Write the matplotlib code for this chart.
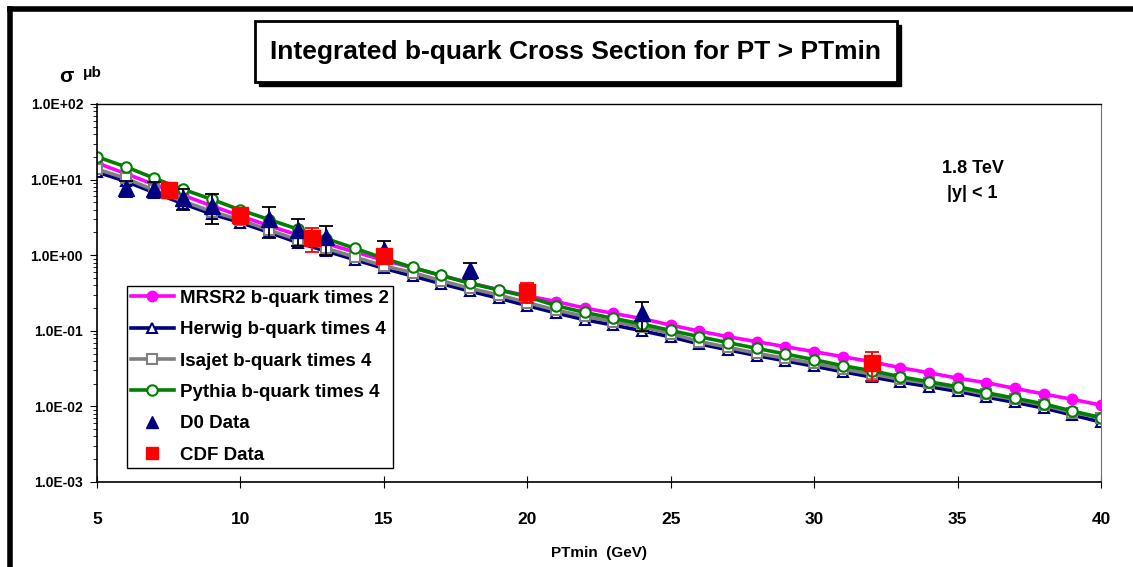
import matplotlib.pyplot as plt
from matplotlib.lines import Line2D
from matplotlib.patches import Rectangle

plt.rcParams['font.family'] = ['Liberation Sans', 'DejaVu Sans']
plt.rcParams['font.weight'] = 'bold'

# PTmin (GeV)
pt = list(range(5, 41))

mrsr2 = [16.6, 12.0, 8.6, 6.2, 4.5, 3.3, 2.45, 1.85, 1.42, 1.1, 0.86, 0.68,
         0.54, 0.43, 0.35, 0.29, 0.244, 0.2, 0.17, 0.145, 0.119, 0.099,
         0.0835, 0.0718, 0.0616, 0.053, 0.0454, 0.039, 0.0325, 0.0279,
         0.0236, 0.0206, 0.0173, 0.0146, 0.0124, 0.0104]
herwig = [12.6, 9.5, 6.7, 4.8, 3.5, 2.7, 2.0, 1.47, 1.13, 0.87, 0.67, 0.53,
          0.42, 0.335, 0.27, 0.215, 0.172, 0.14, 0.119, 0.1, 0.083, 0.067,
          0.056, 0.047, 0.04, 0.034, 0.0287, 0.0245, 0.021, 0.0183, 0.0158,
          0.0133, 0.0113, 0.0095, 0.0077, 0.0062]
isajet = [13.8, 10.4, 7.2, 5.2, 3.77, 2.93, 2.15, 1.59, 1.23, 0.94, 0.72,
          0.59, 0.46, 0.365, 0.298, 0.236, 0.188, 0.155, 0.132, 0.113, 0.092,
          0.072, 0.0605, 0.0504, 0.0432, 0.0372, 0.0312, 0.0268, 0.0228,
          0.0202, 0.0173, 0.0144, 0.0124, 0.0104, 0.0083, 0.0071]
pythia = [20.0, 14.8, 10.4, 7.44, 5.48, 3.96, 2.96, 2.21, 1.65, 1.23, 0.91,
          0.69, 0.54, 0.425, 0.347, 0.283, 0.215, 0.175, 0.146, 0.123, 0.101,
          0.0835, 0.0697, 0.0586, 0.0493, 0.0415, 0.0345, 0.0297, 0.0247,
          0.0212, 0.0182, 0.0152, 0.0128, 0.0108, 0.0087, 0.0071]

# D0 data
d0_pt = [6, 7, 8, 9, 11, 12, 13, 15, 18, 24]
d0_val = [7.7, 7.5, 5.7, 4.5, 3.0, 2.15, 1.73, 1.17, 0.64, 0.17]
d0_err = [1.8, 1.7, 1.7, 1.9, 1.3, 0.83, 0.73, 0.38, 0.15, 0.07]

# CDF data
cdf_pt = [7.5, 10, 12.5, 15, 20, 32]
cdf_val = [7.3, 3.4, 1.68, 0.975, 0.33, 0.037]
cdf_err = [0.5, 0.8, 0.58, 0.2, 0.1, 0.015]

fig = plt.figure(figsize=(11.33, 5.67), dpi=100)
ax = fig.add_axes([97 / 1133, 1 - 482 / 567, 1004 / 1133, 378 / 567])

lw = 2.6
l1, = ax.plot(pt, mrsr2, color='#ff00ff', lw=lw, marker='o', ms=7.5,
              mfc='#ff00ff', mec='#ff00ff')
l2, = ax.plot(pt, herwig, color='#000080', lw=lw, marker='^', ms=7.5,
              mfc='white', mec='#000080', mew=1.5)
l3, = ax.plot(pt, isajet, color='#808080', lw=lw, marker='s', ms=7.5,
              mfc='white', mec='#808080', mew=1.5)
l4, = ax.plot(pt, pythia, color='#008000', lw=lw, marker='o', ms=7.5,
              mfc='white', mec='#008000', mew=1.5)
ax.errorbar(d0_pt, d0_val, yerr=d0_err, fmt='^', color='#000080', ms=11,
            ecolor='black', elinewidth=1.3, capsize=5, capthick=1.3,
            zorder=5)
ax.errorbar(cdf_pt, cdf_val, yerr=cdf_err, fmt='s', color='#ff0000', ms=11,
            ecolor='#ff0000', elinewidth=1.3, capsize=5, capthick=1.3,
            zorder=6)
h5 = Line2D([], [], ls='none', marker='^', ms=9, color='#000080')
h6 = Line2D([], [], ls='none', marker='s', ms=9, color='#ff0000')

ax.set_yscale('log')
ax.set_xlim(5, 40)
ax.set_ylim(1e-3, 1e2)
ax.set_xticks(range(5, 41, 5))
ax.set_yticks([1e-3, 1e-2, 1e-1, 1e0, 1e1, 1e2])
ax.set_yticklabels(['1.0E-03', '1.0E-02', '1.0E-01', '1.0E+00', '1.0E+01',
                    '1.0E+02'], fontsize=10, fontweight='bold')
ax.tick_params(axis='x', direction='inout', length=9, labelsize=12.5, pad=17)
ax.tick_params(axis='y', which='major', direction='out', length=5, pad=5)
ax.tick_params(axis='y', which='minor', direction='out', length=3)
for lab in ax.get_xticklabels():
    lab.set_fontweight('bold')
ax.spines['left'].set_linewidth(1.2)
ax.spines['bottom'].set_linewidth(1.2)
ax.spines['top'].set_linewidth(1.0)
ax.spines['right'].set_color('#707070')
ax.set_xlabel('PTmin  (GeV)', fontsize=11, fontweight='bold', labelpad=14)

leg = ax.legend([l1, l2, l3, l4, h5, h6],
                ['MRSR2 b-quark times 2', 'Herwig b-quark times 4',
                 'Isajet b-quark times 4', 'Pythia b-quark times 4',
                 'D0 Data', 'CDF Data'],
                loc='upper left', bbox_to_anchor=(127 / 1133, 1 - 286 / 567),
                bbox_transform=fig.transFigure, fontsize=13.5, frameon=True,
                fancybox=False, edgecolor='black', framealpha=1,
                handlelength=2.3, handletextpad=0.35, labelspacing=0.76,
                borderpad=0.2, borderaxespad=0)
leg.get_frame().set_linewidth(1.0)
for t in leg.get_texts():
    t.set_fontweight('bold')

ax.text(0.872, 0.83, '1.8 TeV', transform=ax.transAxes, ha='center',
        va='center', fontsize=13, fontweight='bold')
ax.text(0.872, 0.763, '|y| < 1', transform=ax.transAxes, ha='center',
        va='center', fontsize=13, fontweight='bold')

# y axis unit label
fig.text(66 / 1133, 1 - 77 / 567, 'σ', fontsize=15, fontweight='bold',
         ha='center', va='center')
fig.text(92 / 1133, 1 - 73 / 567, 'μb', fontsize=11, fontweight='bold',
         ha='center', va='center')

# title box with shadow
bx0, bx1, by0, by1 = 255, 897, 21, 82
fig.add_artist(Rectangle((bx0 / 1133 + 4 / 1133, 1 - by1 / 567 - 4 / 567),
                         (bx1 - bx0) / 1133, (by1 - by0) / 567,
                         transform=fig.transFigure, facecolor='black',
                         edgecolor='black'))
fig.add_artist(Rectangle((bx0 / 1133, 1 - by1 / 567),
                         (bx1 - bx0) / 1133, (by1 - by0) / 567,
                         transform=fig.transFigure, facecolor='white',
                         edgecolor='black', linewidth=2))
fig.text((bx0 + bx1) / 2 / 1133, 1 - (by0 + by1) / 2 / 567,
         'Integrated b-quark Cross Section for PT > PTmin', fontsize=19,
         fontweight='bold', ha='center', va='center')

# slide frame
fig.add_artist(Line2D([10 / 1133, 1], [1 - 9 / 567, 1 - 9 / 567],
                      transform=fig.transFigure, color='black', lw=4))
fig.add_artist(Line2D([10 / 1133, 10 / 1133], [1 - 9 / 567, 0],
                      transform=fig.transFigure, color='black', lw=4))

fig.savefig('out.png', dpi=100)
